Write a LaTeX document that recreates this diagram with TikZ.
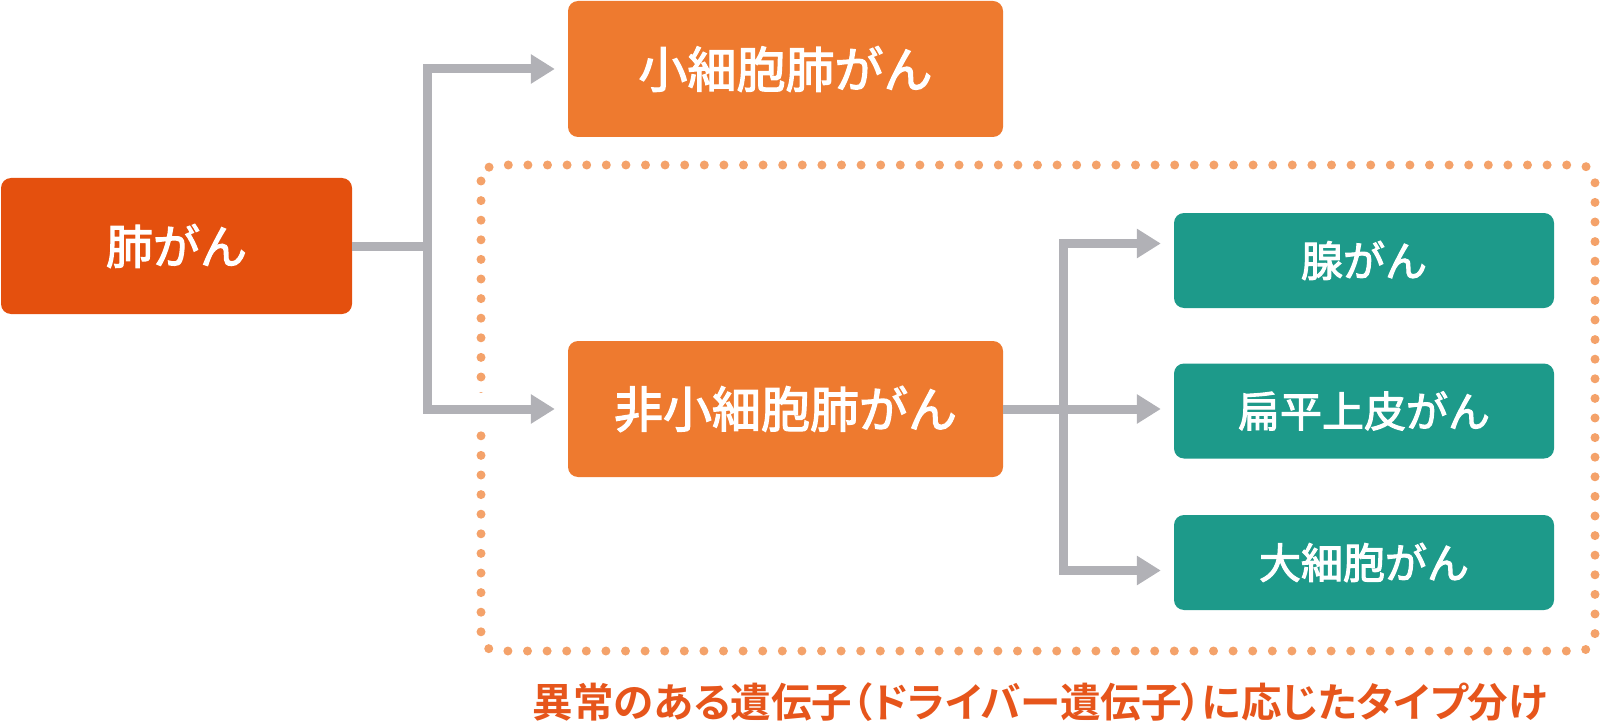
\documentclass[tikz,border=0pt]{standalone}
\usepackage{fontspec}
\usetikzlibrary{arrows.meta,calc}
\newfontfamily\cjk[FakeBold=2.5]{Noto Sans CJK JP}
\newfontfamily\cjklabel[RawFeature=+palt]{Noto Sans CJK JP Bold}
\definecolor{lungc}{HTML}{E4500E}
\definecolor{orangec}{HTML}{EE7A2F}
\definecolor{tealc}{HTML}{1D9A8A}
\definecolor{grayc}{HTML}{B1B1B6}
\definecolor{dotc}{HTML}{F4A26A}
\definecolor{labelc}{HTML}{E6551B}
\tikzset{
  box/.style={rounded corners=10pt, inner sep=0pt, text=white, font=\cjk},
  lungbox/.style={box, fill=lungc, minimum width=351pt, minimum height=136pt, font=\cjk\fontsize{47pt}{50pt}\selectfont},
  orbox/.style={box, fill=orangec, minimum width=435pt, minimum height=136pt, font=\cjk\fontsize{49pt}{52pt}\selectfont},
  tealbox/.style={box, fill=tealc, minimum width=380pt, minimum height=95pt, font=\cjk\fontsize{42pt}{46pt}\selectfont},
  conn/.style={draw=grayc, line width=9pt, line join=miter, line cap=butt},
  arr/.style={conn, -{Triangle[length=24pt,width=28pt]}, shorten >=13pt},
  dotborder/.style={draw=dotc, line width=9pt, line cap=round, dash pattern=on 0pt off 19.6pt, rounded corners=16pt},
}
\begin{document}
\begin{tikzpicture}[x=1pt,y=-1pt]
\useasboundingbox (0,0) rectangle (1600,722);
% dotted group border
\draw[dotborder] (481,165) rectangle (1595,651);
% nodes
\node[lungbox] (lung) at (176.5,246) {肺がん};
\node[orbox] (sclc) at (785.5,69) {小細胞肺がん};
\node[orbox] (nsclc) at (785.5,409) {非小細胞肺がん};
\node[tealbox] (adeno) at (1364,260.5) {腺がん};
\node[tealbox] (squam) at (1364,411) {扁平上皮がん};
\node[tealbox] (large) at (1364,562.5) {大細胞がん};
\node[font=\cjklabel\fontsize{40.5pt}{44pt}\selectfont, text=labelc, inner sep=0pt] (label) at (1040,702) {異常のある遺伝子（ドライバー遺伝子）に応じたタイプ分け};
% branch points
\coordinate (b1) at (427,246);
\coordinate (b2) at (1063,410);
% white gap in the dotted border where the arrow crosses
\draw[white, line width=32pt] (b1 |- nsclc.west) ++(40,0) -- ++(30,0);
% connectors
\draw[conn] (lung.east) -- (b1);
\draw[arr] (b1) |- (sclc.west);
\draw[arr] (b1) |- (nsclc.west);
\draw[arr] (nsclc.east) -- (nsclc.east -| squam.west);
\draw[arr] (b2) |- ([yshift=17pt]adeno.west);
\draw[arr] (b2) |- ([yshift=-8pt]large.west);
\end{tikzpicture}
\end{document}
